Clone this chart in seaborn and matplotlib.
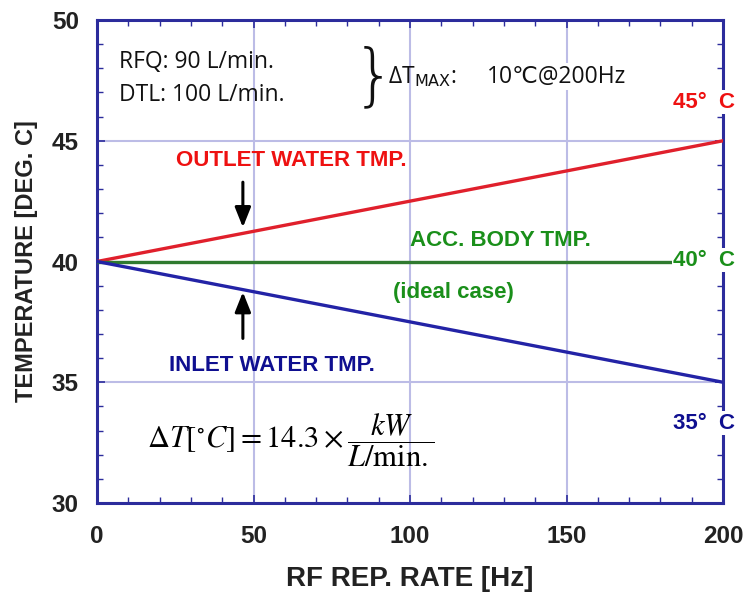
import pandas as pd
import matplotlib.pyplot as plt
import seaborn as sns
from matplotlib.ticker import MultipleLocator

# data
rate = [0, 200]
outlet = [40, 45]
body = [40, 40]
inlet = [40, 35]

df = pd.DataFrame({"rate": rate * 3,
                   "temp": outlet + body + inlet,
                   "kind": ["outlet"] * 2 + ["body"] * 2 + ["inlet"] * 2})

sns.set_theme(style="white")
plt.rcParams['font.family'] = ['Liberation Sans', 'DejaVu Sans']

spine_col = "#2c2c9c"
red = "#e0202c"
green = "#2f7a2f"
blue = "#2323a6"
txt = "#222222"

fig = plt.figure(figsize=(7.48, 5.94), dpi=100)
ax = fig.add_axes([0.1297, 0.1532, 0.8369, 0.8131])

sns.lineplot(data=df, x="rate", y="temp", hue="kind",
             palette={"outlet": red, "body": green, "inlet": blue},
             linewidth=2.4, legend=False, ax=ax, zorder=3)

ax.set_xlim(0, 200)
ax.set_ylim(30, 50)
ax.xaxis.set_major_locator(MultipleLocator(50))
ax.xaxis.set_minor_locator(MultipleLocator(10))
ax.yaxis.set_major_locator(MultipleLocator(5))
ax.yaxis.set_minor_locator(MultipleLocator(1))
ax.grid(True, which="major", color="#bcbce6", linewidth=1.5, zorder=0)
ax.tick_params(which="both", direction="in", color=spine_col, top=True, right=True,
               bottom=True, left=True)
ax.tick_params(which="major", length=6, width=1.2, labelsize=17.5)
ax.tick_params(axis="x", which="major", pad=16)
ax.tick_params(axis="y", which="major", pad=13)
ax.tick_params(which="minor", length=4, width=1.0)
for lab in ax.get_xticklabels() + ax.get_yticklabels():
    lab.set_fontweight("bold")
    lab.set_color(txt)
for s in ax.spines.values():
    s.set_color(spine_col)
    s.set_linewidth(2.2)

ax.set_xlabel("RF REP. RATE [Hz]", fontsize=20, fontweight="bold", color=txt, labelpad=13)
ax.set_ylabel("TEMPERATURE [DEG. C]", fontsize=17, fontweight="bold", color=txt, labelpad=10)

# annotations
bb = dict(facecolor="white", edgecolor="none", pad=1)
ax.text(62, 44.2, "OUTLET WATER TMP.", color="#ee1111", fontsize=16, fontweight="bold",
        ha="center", va="center", zorder=4)
ax.text(129, 40.85, "ACC. BODY TMP.", color="#1a8f1a", fontsize=16, fontweight="bold",
        ha="center", va="center", zorder=4)
ax.text(114, 38.7, "(ideal case)", color="#1a8f1a", fontsize=16, fontweight="bold",
        ha="center", va="center", zorder=4)
ax.text(56, 35.7, "INLET WATER TMP.", color="#0f0f90", fontsize=16, fontweight="bold",
        ha="center", va="center", zorder=4)

ax.annotate("", xy=(46.6, 41.3), xytext=(46.6, 43.4),
            arrowprops=dict(arrowstyle="-|>,head_width=0.4,head_length=1.0", color="black", lw=2.2))
ax.annotate("", xy=(46.6, 38.85), xytext=(46.6, 36.7),
            arrowprops=dict(arrowstyle="-|>,head_width=0.4,head_length=1.0", color="black", lw=2.2))

ax.text(184, 46.6, "45°  C", color="#ee1111", fontsize=16, fontweight="bold",
        ha="left", va="center", bbox=bb, clip_on=False, zorder=5)
ax.text(184, 40.05, "40°  C", color="#1a8f1a", fontsize=16, fontweight="bold",
        ha="left", va="center", bbox=bb, clip_on=False, zorder=5)
ax.text(184, 33.3, "35°  C", color="#0f0f90", fontsize=16, fontweight="bold",
        ha="left", va="center", bbox=bb, clip_on=False, zorder=5)

ax.text(7.0, 48.25, "RFQ: 90 L/min.", fontsize=16.5, color="#111111", family=["Open Sans", "DejaVu Sans"],
        ha="left", va="center", zorder=4)
ax.text(7.0, 46.9, "DTL: 100 L/min.", fontsize=16.5, color="#111111", family=["Open Sans", "DejaVu Sans"],
        ha="left", va="center", zorder=4)
ax.text(88.3, 47.6, "}", fontsize=48, color="#111111", family=["DejaVu Sans"], fontweight="light",
        ha="center", va="center", zorder=4)
ax.text(93.0, 47.65, r"ΔT$_{\mathrm{MAX}}$:", fontsize=16.5, color="#111111",
        family=["Open Sans", "DejaVu Sans"], math_fontfamily="dejavusans",
        ha="left", va="center", zorder=4)
ax.text(124.5, 47.65, "10℃@200Hz", fontsize=16.5, color="#111111",
        family=["Open Sans", "DejaVu Sans"], ha="left", va="center", bbox=bb, zorder=4)

ax.text(16.0, 32.6, r"$\Delta T\left[^{\circ}C\right] = 14.3\times\dfrac{kW}{L/\mathrm{min}.}$",
        fontsize=22, color="black", math_fontfamily="stix", ha="left", va="center", zorder=4)

fig.savefig("out.png", dpi=100)
